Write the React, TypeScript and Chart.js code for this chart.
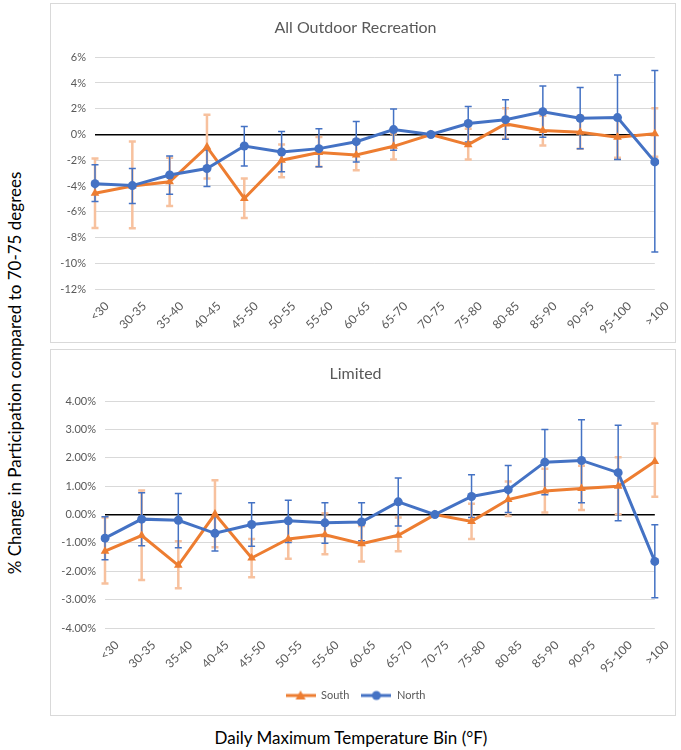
import { useEffect, useRef } from 'react';
import { Chart, registerables } from 'chart.js';

Chart.register(...registerables);

// temperature bins (x tick labels)
const categories = ['<30', '30-35', '35-40', '40-45', '45-50', '50-55', '55-60', '60-65', '65-70', '70-75', '75-80', '80-85', '85-90', '90-95', '95-100', '>100'];

// All Outdoor Recreation, % change vs 70-75
const southAll = [-4.56, -4.0, -3.67, -0.97, -4.97, -2.0, -1.41, -1.59, -0.92, 0, -0.79, 0.82, 0.31, 0.18, -0.21, 0.05];
const southAllLow = [-7.26, -7.28, -5.55, -3.41, -6.49, -3.33, -2.5, -2.77, -1.95, 0, -1.95, -0.33, -0.85, -1.1, -1.8, -1.74];
const southAllHigh = [-1.87, -0.54, -1.8, 1.54, -3.41, -0.77, -0.2, -0.4, 0.07, 0, 0.44, 2.03, 1.46, 1.46, 1.4, 2.03];
const northAll = [-3.82, -3.97, -3.15, -2.64, -0.9, -1.36, -1.1, -0.56, 0.38, 0, 0.85, 1.15, 1.77, 1.26, 1.31, -2.13];
const northAllLow = [-5.2, -5.36, -4.64, -4.05, -2.44, -2.9, -2.51, -2.13, -1.23, 0, -0.59, -0.38, -0.21, -1.1, -1.95, -9.13];
const northAllHigh = [-2.36, -2.64, -1.67, -1.2, 0.62, 0.23, 0.44, 1.0, 1.97, 0, 2.18, 2.69, 3.77, 3.64, 4.62, 4.97];

// Limited
const southLim = [-1.29, -0.74, -1.79, 0.02, -1.53, -0.86, -0.71, -1.03, -0.73, 0, -0.24, 0.53, 0.83, 0.92, 1.0, 1.87];
const southLimLow = [-2.43, -2.31, -2.6, -1.15, -2.21, -1.56, -1.4, -1.65, -1.29, 0, -0.86, -0.05, 0.07, 0.16, 0.01, 0.63];
const southLimHigh = [-0.1, 0.85, -0.94, 1.21, -0.86, -0.2, 0.05, -0.4, -0.1, 0, 0.38, 1.17, 1.62, 1.72, 2.02, 3.21];
const northLim = [-0.83, -0.16, -0.2, -0.66, -0.35, -0.22, -0.29, -0.26, 0.45, 0, 0.64, 0.88, 1.85, 1.91, 1.48, -1.65];
const northLimLow = [-1.59, -1.1, -1.17, -1.28, -1.12, -0.98, -1.01, -0.92, -0.4, 0, -0.1, 0.07, 0.7, 0.42, -0.22, -2.93];
const northLimHigh = [-0.08, 0.77, 0.74, -0.05, 0.42, 0.51, 0.42, 0.42, 1.29, 0, 1.41, 1.73, 3.0, 3.35, 3.15, -0.36];

const ORANGE = '#ED7D31';
const ORANGE_ERR = '#F7C19E';
const BLUE = '#4472C4';
const GREY_TEXT = '#595959';
const FONT = 'Lato, "Noto Sans", sans-serif';

// line + marker icon for the legend
function legendIcon(color: string, shape: 'triangle' | 'circle') {
  const c = document.createElement('canvas');
  c.width = 30;
  c.height = 12;
  const g = c.getContext('2d')!;
  g.strokeStyle = color;
  g.lineWidth = 3;
  g.beginPath();
  g.moveTo(0, 6);
  g.lineTo(30, 6);
  g.stroke();
  g.fillStyle = color;
  g.beginPath();
  if (shape === 'triangle') {
    g.moveTo(15, 1);
    g.lineTo(20, 10);
    g.lineTo(10, 10);
    g.closePath();
  } else {
    g.arc(15, 6, 4.5, 0, Math.PI * 2);
  }
  g.fill();
  return c;
}

const errorBars = {
  id: 'errorBars',
  beforeDatasetsDraw(chart: any) {
    const { ctx } = chart;
    const yScale = chart.scales.y;
    chart.data.datasets.forEach((ds: any, i: number) => {
      if (!ds.errLow) return;
      const meta = chart.getDatasetMeta(i);
      ctx.save();
      ctx.strokeStyle = ds.errColor;
      ctx.lineWidth = ds.errWidth;
      meta.data.forEach((pt: any, j: number) => {
        const lo = ds.errLow[j];
        const hi = ds.errHigh[j];
        if (lo === hi) return;
        const x = pt.x;
        const y1 = yScale.getPixelForValue(lo);
        const y2 = yScale.getPixelForValue(hi);
        ctx.beginPath();
        ctx.moveTo(x, y1);
        ctx.lineTo(x, y2);
        ctx.moveTo(x - 3.5, y1);
        ctx.lineTo(x + 3.5, y1);
        ctx.moveTo(x - 3.5, y2);
        ctx.lineTo(x + 3.5, y2);
        ctx.stroke();
      });
      ctx.restore();
    });
  },
};

interface PanelProps {
  title: string;
  south: number[];
  southLow: number[];
  southHigh: number[];
  north: number[];
  northLow: number[];
  northHigh: number[];
  min: number;
  max: number;
  step: number;
  decimals: number;
  yWidth: number;
  titleGap: number;
  xHeight: number;
  showLegend: boolean;
  bottomPad: number;
}

function Panel(p: PanelProps) {
  const canvasRef = useRef<HTMLCanvasElement>(null);

  useEffect(() => {
    if (!canvasRef.current) return;
    const chart = new Chart(canvasRef.current, {
      type: 'line',
      data: {
        labels: categories,
        datasets: [
          {
            label: 'South',
            data: p.south,
            borderColor: ORANGE,
            backgroundColor: ORANGE,
            borderWidth: 3,
            pointStyle: 'triangle',
            pointRadius: 5,
            pointBorderWidth: 0,
            tension: 0,
            order: 2,
            errLow: p.southLow,
            errHigh: p.southHigh,
            errColor: ORANGE_ERR,
            errWidth: 2.5,
          } as any,
          {
            label: 'North',
            data: p.north,
            borderColor: BLUE,
            backgroundColor: BLUE,
            borderWidth: 3,
            pointStyle: 'circle',
            pointRadius: 4.5,
            pointBorderWidth: 0,
            tension: 0,
            order: 1,
            errLow: p.northLow,
            errHigh: p.northHigh,
            errColor: BLUE,
            errWidth: 1.5,
          } as any,
        ],
      },
      options: {
        responsive: true,
        maintainAspectRatio: false,
        animation: false,
        layout: { padding: { left: 0, right: 15, top: 0, bottom: p.bottomPad } },
        plugins: {
          title: {
            display: true,
            text: p.title,
            color: GREY_TEXT,
            font: { family: FONT, size: 16, weight: 'normal' },
            padding: { top: 14, bottom: p.titleGap },
          },
          legend: {
            display: p.showLegend,
            position: 'bottom',
            labels: {
              usePointStyle: true,
              pointStyleWidth: 30,
              color: GREY_TEXT,
              padding: 12,
              font: { family: FONT, size: 11 },
              sort: (a: any, b: any) => a.datasetIndex - b.datasetIndex,
              generateLabels: (c: any) => {
                const items = Chart.defaults.plugins.legend.labels.generateLabels(c);
                return items.map((it: any) => ({
                  ...it,
                  pointStyle: it.text === 'South' ? legendIcon(ORANGE, 'triangle') : legendIcon(BLUE, 'circle'),
                }));
              },
            },
          },
          tooltip: { enabled: false },
        },
        scales: {
          x: {
            grid: { display: false, drawTicks: false },
            border: { display: false },
            ticks: {
              color: GREY_TEXT,
              font: { family: FONT, size: 12 },
              minRotation: 45,
              maxRotation: 45,
              autoSkip: false,
              padding: 10,
              labelOffset: 12,
            },
            afterFit: (s: any) => {
              s.height = p.xHeight;
            },
          },
          y: {
            min: p.min,
            max: p.max,
            grid: {
              drawTicks: false,
              color: (c: any) => (c.tick && c.tick.value === 0 ? '#000000' : '#d9d9d9'),
              lineWidth: (c: any) => (c.tick && c.tick.value === 0 ? 1.5 : 1),
            },
            border: { display: false },
            ticks: {
              stepSize: p.step,
              color: GREY_TEXT,
              font: { family: FONT, size: 11 },
              padding: 9,
              callback: (v: any) => Number(v).toFixed(p.decimals) + '%',
            },
            afterFit: (s: any) => {
              s.width = p.yWidth;
            },
          },
        },
      },
      plugins: [errorBars],
    } as any);
    return () => chart.destroy();
  }, []);

  return <canvas ref={canvasRef} />;
}

export default function App() {
  const box = {
    position: 'absolute' as const,
    left: 50,
    width: 624,
    border: '1px solid #d9d9d9',
    background: '#fff',
  };
  return (
    <div style={{ position: 'absolute', left: 0, top: 0, width: 681, height: 750, background: '#fff', fontFamily: FONT }}>
      <div style={{ ...box, top: 3, height: 338 }}>
        <Panel
          title="All Outdoor Recreation"
          south={southAll}
          southLow={southAllLow}
          southHigh={southAllHigh}
          north={northAll}
          northLow={northAllLow}
          northHigh={northAllHigh}
          min={-12}
          max={6}
          step={2}
          decimals={0}
          yWidth={44}
          titleGap={20}
          xHeight={53}
          showLegend={false}
          bottomPad={0}
        />
      </div>
      <div style={{ ...box, top: 349, height: 365 }}>
        <Panel
          title="Limited"
          south={southLim}
          southLow={southLimLow}
          southHigh={southLimHigh}
          north={northLim}
          northLow={northLimLow}
          northHigh={northLimHigh}
          min={-4}
          max={4}
          step={1}
          decimals={2}
          yWidth={54}
          titleGap={18}
          xHeight={50}
          showLegend={true}
          bottomPad={4}
        />
      </div>
      <div
        style={{
          position: 'absolute',
          left: 14,
          top: 373,
          transform: 'translate(-50%, -50%) rotate(-90deg)',
          whiteSpace: 'nowrap',
          fontSize: 17,
          color: '#000',
        }}
      >
        % Change in Participation compared to 70-75 degrees
      </div>
      <div
        style={{
          position: 'absolute',
          left: 351,
          top: 737,
          transform: 'translate(-50%, -50%)',
          whiteSpace: 'nowrap',
          fontSize: 17,
          color: '#000',
        }}
      >
        Daily Maximum Temperature Bin (°F)
      </div>
    </div>
  );
}
